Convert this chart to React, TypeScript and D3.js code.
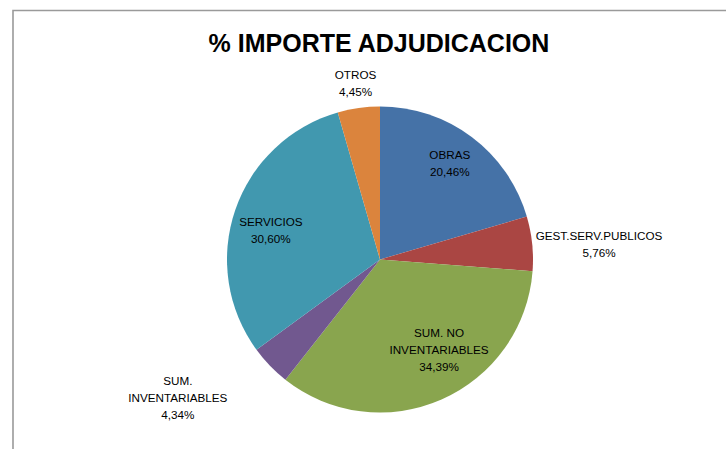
import React from 'react';
import * as d3 from 'd3';

const categories = ['OBRAS', 'GEST.SERV.PUBLICOS', 'SUM. NO INVENTARIABLES', 'SUM. INVENTARIABLES', 'SERVICIOS', 'OTROS'];
const shares = [20.46, 5.76, 34.39, 4.34, 30.6, 4.45];
const labelLines = [['OBRAS'], ['GEST.SERV.PUBLICOS'], ['SUM. NO', 'INVENTARIABLES'], ['SUM.', 'INVENTARIABLES'], ['SERVICIOS'], ['OTROS']];
const colors = ['#4572A7', '#AA4643', '#89A54E', '#71588F', '#4198AF', '#DB843D'];
const chartTitle = '% IMPORTE ADJUDICACION';

// where excel put each label: distance from centre, and turn away from the slice middle (deg)
const labelPlace = [
  { r: 119, turn: -0.9 },
  { r: 219.5, turn: 2.1 },
  { r: 108, turn: -9.4 },
  { r: 245, turn: 9.6 },
  { r: 113, turn: -3.8 },
  { r: 178, turn: 0.1 },
];

const width = 726;
const height = 449;
const cx = 380;
const cy = 259.5;
const radius = 153;
const lineGap = 16.8;
const fontSize = 11.7;

const fmt = (v: number) => v.toFixed(2).replace('.', ',') + '%';

export default function App() {
  const pie = d3.pie<number>().sort(null).value((d) => d);
  const arcs = pie(shares);
  const arc = d3.arc<d3.PieArcDatum<number>>().innerRadius(0).outerRadius(radius);

  return (
    <svg
      width={width}
      height={height}
      style={{ position: 'absolute', left: 0, top: 0, background: '#fff' }}
      fontFamily="'Liberation Sans', Arial, sans-serif"
    >
      <rect x={0} y={0} width={width} height={height} fill="#fff" />
      <path d={`M13,${height} V10.5 H${width}`} fill="none" stroke="#9a9a9a" strokeWidth={1.6} />
      <text x={379} y={52} textAnchor="middle" fontSize={25} fontWeight="bold" fill="#000">
        {chartTitle}
      </text>
      <g transform={`translate(${cx},${cy})`}>
        {arcs.map((a, i) => (
          <path key={categories[i]} d={arc(a) || ''} fill={colors[i]} />
        ))}
        {arcs.map((a, i) => {
          const mid = (a.startAngle + a.endAngle) / 2 + (labelPlace[i].turn * Math.PI) / 180;
          const x = labelPlace[i].r * Math.sin(mid);
          const y = -labelPlace[i].r * Math.cos(mid);
          const lines = [...labelLines[i], fmt(shares[i])];
          const y0 = y - (lineGap * (lines.length - 1)) / 2 + fontSize * 0.36;
          return (
            <text key={'l' + i} x={x} y={y0} textAnchor="middle" fontSize={fontSize} fill="#000">
              {lines.map((t, j) => (
                <tspan key={j} x={x} y={y0 + j * lineGap}>
                  {t}
                </tspan>
              ))}
            </text>
          );
        })}
      </g>
    </svg>
  );
}
